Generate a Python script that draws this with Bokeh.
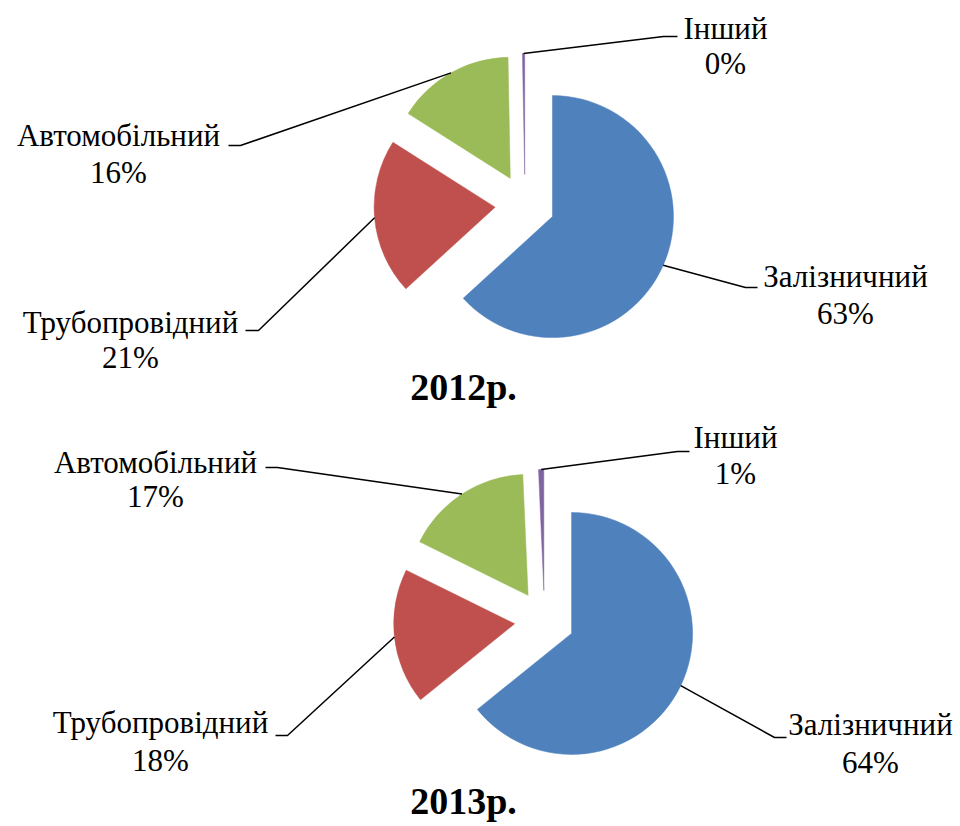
import math
from bokeh.plotting import figure
from bokeh.models import ColumnDataSource, Range1d
from bokeh.core.properties import value
from bokeh.embed import file_html
from bokeh.resources import INLINE

# ---- data ----
categories = ["Залізничний", "Трубопровідний", "Автомобільний", "Інший"]
share_2012 = [63.2, 20.8, 15.7, 0.3]
share_2013 = [64.2, 18.1, 17.0, 0.7]
year_titles = ["2012р.", "2013р."]
colors = ["#4F81BD", "#C0504D", "#9BBB59", "#8064A2"]

# ---- layout (pixel positions, y measured from top) ----
W, H = 960, 826
R = 121
EXPLODE = 30
FONT = "Liberation Serif"

panels = [
    dict(values=share_2012, center=(524.5, 204), title=(463, 386),
         labels=[  # name centre, pct centre, leader end, leader elbow
             ((845, 276), (845, 313), (757, 287), (745, 287)),
             ((130, 322), (130, 357), (245, 330), (258, 330)),
             ((118, 135), (118, 172), (228, 145), (240, 145)),
             ((725, 28), (725, 63), (677, 36), (663, 36)),
         ]),
    dict(values=share_2013, center=(544, 620), title=(463, 800),
         labels=[
             ((870, 724), (870, 762), (786, 737), (774, 737)),
             ((160, 722), (160, 760), (275, 735), (287, 735)),
             ((155, 462), (155, 496), (265, 467), (277, 467)),
             ((735, 437), (735, 473), (689, 451), (677, 451)),
         ]),
]


def Y(py):
    return H - py


p = figure(width=W, height=H, x_range=Range1d(0, W), y_range=Range1d(0, H),
           output_backend="svg", toolbar_location=None, min_border=0)
p.axis.visible = False
p.grid.visible = False
p.outline_line_color = None
p.background_fill_color = "white"
p.border_fill_color = "white"

wedge_data = dict(x=[], y=[], start=[], end=[], color=[])
line_xs, line_ys = [], []
txt = dict(x=[], y=[], text=[])
titles = dict(x=[], y=[], text=[])

for panel, title in zip(panels, year_titles):
    vals = panel["values"]
    total = float(sum(vals))
    cx, cy = panel["center"][0], Y(panel["center"][1])
    cum = 0.0
    for i, (cat, v, col) in enumerate(zip(categories, vals, colors)):
        t0 = 360.0 * cum / total
        cum += v
        t1 = 360.0 * cum / total
        tm = math.radians((t0 + t1) / 2.0)
        dx, dy = math.sin(tm), math.cos(tm)
        ax, ay = cx + EXPLODE * dx, cy + EXPLODE * dy
        wedge_data["x"].append(ax)
        wedge_data["y"].append(ay)
        wedge_data["start"].append(math.radians(90 - t1))
        wedge_data["end"].append(math.radians(90 - t0))
        wedge_data["color"].append(col)
        name_c, pct_c, lend, elbow = panel["labels"][i]
        line_xs.append([ax + R * dx, elbow[0], lend[0]])
        line_ys.append([ay + R * dy, Y(elbow[1]), Y(lend[1])])
        txt["x"] += [name_c[0], pct_c[0]]
        txt["y"] += [Y(name_c[1]), Y(pct_c[1])]
        txt["text"] += [cat, f"{round(v)}%"]
    titles["x"].append(panel["title"][0])
    titles["y"].append(Y(panel["title"][1]))
    titles["text"].append(title)

p.wedge(x="x", y="y", radius=R, start_angle="start", end_angle="end",
        fill_color="color", line_color="color", line_width=0.5,
        source=ColumnDataSource(wedge_data))
p.multi_line(xs=line_xs, ys=line_ys, line_color="black", line_width=1.5)
p.text(x="x", y="y", text="text", source=ColumnDataSource(txt),
       text_font=value(FONT), text_font_size="31px",
       text_align="center", text_baseline="middle", text_color="black")
p.text(x="x", y="y", text="text", source=ColumnDataSource(titles),
       text_font=value(FONT), text_font_size="38px", text_font_style="bold",
       text_align="center", text_baseline="middle", text_color="black")

open("out.html", "w").write(file_html(p, INLINE))
